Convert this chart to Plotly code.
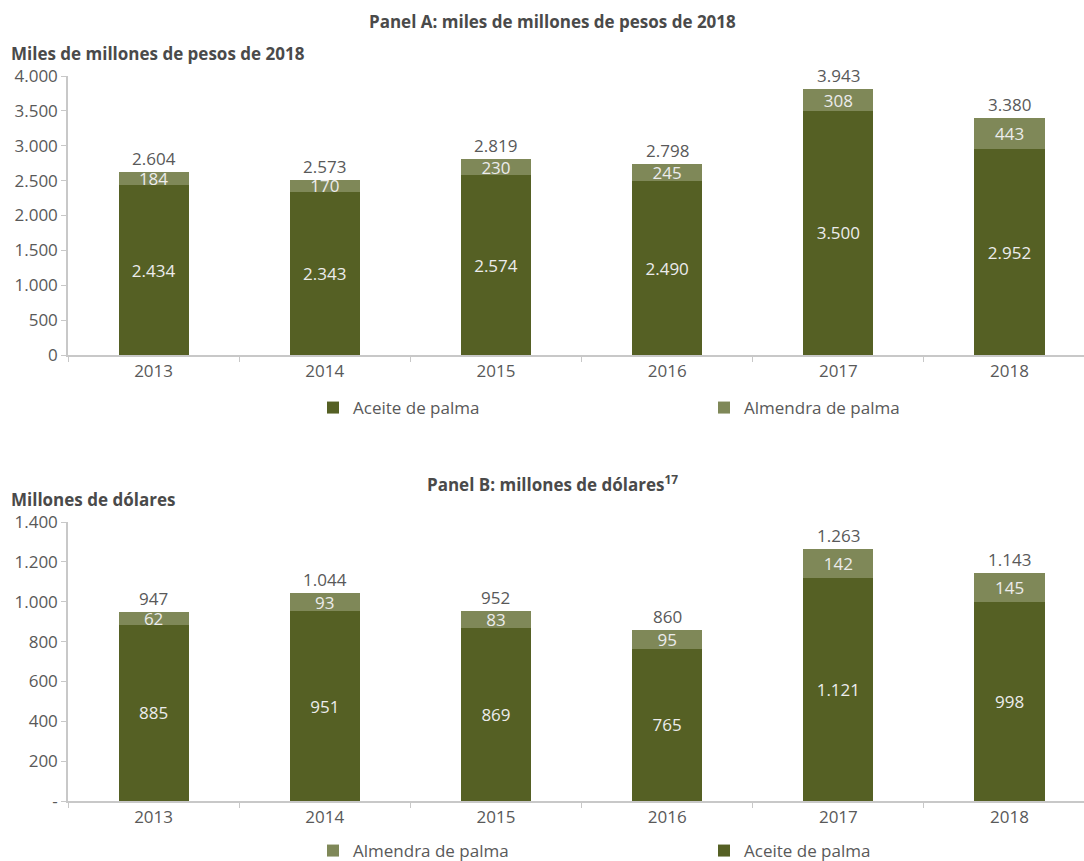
import plotly.graph_objects as go

years = ["2013", "2014", "2015", "2016", "2017", "2018"]

# Panel A: miles de millones de pesos de 2018
aceite_a = [2434, 2343, 2574, 2490, 3500, 2952]
almendra_a = [184, 170, 230, 245, 308, 443]
total_a = [2604, 2573, 2819, 2798, 3943, 3380]
ticks_a = [0, 500, 1000, 1500, 2000, 2500, 3000, 3500, 4000]
ticklabels_a = ["0", "500", "1.000", "1.500", "2.000", "2.500", "3.000", "3.500", "4.000"]

# Panel B: millones de dólares
aceite_b = [885, 951, 869, 765, 1121, 998]
almendra_b = [62, 93, 83, 95, 142, 145]
total_b = [947, 1044, 952, 860, 1263, 1143]
ticks_b = [0, 200, 400, 600, 800, 1000, 1200, 1400]
ticklabels_b = ["-", "200", "400", "600", "800", "1.000", "1.200", "1.400"]

DARK = "#556024"
LIGHT = "#7f8858"
GRAY = "#595959"
TITLE = "#4a4a4a"
AXIS = "#c8c8c8"
FONT = "Open Sans"
FS = 17

W, H = 1084, 861
L, R, T, B = 68, 0, 76, 60
pw, ph = W - L - R, H - T - B


def px(x):
    return (x - L) / pw


def py(y):
    return (H - B - y) / ph


def fmt(v):
    return f"{v:,}".replace(",", ".")


fig = go.Figure()

bar_common = dict(width=0.41, textposition="inside", insidetextanchor="middle",
                  constraintext="none", textangle=0, cliponaxis=False,
                  marker_line_width=0,
                  insidetextfont=dict(family=FONT, size=FS, color="#ececec"),
                  hoverinfo="skip")

fig.add_trace(go.Bar(x=years, y=aceite_a, name="Aceite de palma", marker_color=DARK,
                     text=[fmt(v) for v in aceite_a], xaxis="x", yaxis="y",
                     legend="legend", **bar_common))
fig.add_trace(go.Bar(x=years, y=almendra_a, name="Almendra de palma", marker_color=LIGHT,
                     text=[fmt(v) for v in almendra_a], xaxis="x", yaxis="y",
                     legend="legend", **bar_common))
fig.add_trace(go.Bar(x=years, y=aceite_b, name="Aceite de palma", marker_color=DARK,
                     text=[fmt(v) for v in aceite_b], xaxis="x2", yaxis="y2",
                     legend="legend2", **bar_common))
fig.add_trace(go.Bar(x=years, y=almendra_b, name="Almendra de palma", marker_color=LIGHT,
                     text=[fmt(v) for v in almendra_b], xaxis="x2", yaxis="y2",
                     legend="legend2", **bar_common))

annotations = []
for i, yr in enumerate(years):
    annotations.append(dict(x=i, y=aceite_a[i] + almendra_a[i], xref="x", yref="y",
                            text=fmt(total_a[i]), showarrow=False, yanchor="bottom",
                            yshift=0, font=dict(family=FONT, size=FS, color=GRAY)))
    annotations.append(dict(x=i, y=aceite_b[i] + almendra_b[i], xref="x2", yref="y2",
                            text=fmt(total_b[i]), showarrow=False, yanchor="bottom",
                            yshift=0, font=dict(family=FONT, size=FS, color=GRAY)))

annotations += [
    dict(text="<b>Panel A: miles de millones de pesos de 2018</b>", x=px(552), y=py(22),
         xref="paper", yref="paper", showarrow=False, xanchor="center", yanchor="middle",
         font=dict(family=FONT, size=17, color=TITLE)),
    dict(text="<b>Miles de millones de pesos de 2018</b>", x=px(9), y=py(53),
         xref="paper", yref="paper", showarrow=False, xanchor="left", yanchor="middle",
         font=dict(family=FONT, size=17, color=TITLE)),
    dict(text="<b>Panel B: millones de dólares<sup>17</sup></b>", x=px(552), y=py(483),
         xref="paper", yref="paper", showarrow=False, xanchor="center", yanchor="middle",
         font=dict(family=FONT, size=17, color=TITLE)),
    dict(text="<b>Millones de dólares</b>", x=px(9), y=py(499),
         xref="paper", yref="paper", showarrow=False, xanchor="left", yanchor="middle",
         font=dict(family=FONT, size=17, color=TITLE)),
]

xaxis_common = dict(type="category", range=[-0.5, 5.435], showline=True, linecolor=AXIS,
                    linewidth=1.5, ticks="outside", tickson="boundaries", ticklen=5,
                    tickcolor=AXIS, showgrid=False, zeroline=False,
                    tickfont=dict(family=FONT, size=FS, color=GRAY), fixedrange=True)
yaxis_common = dict(showline=True, linecolor=AXIS, linewidth=1.5, ticks="outside", ticklen=5,
                    tickcolor=AXIS, showgrid=False, zeroline=False,
                    tickfont=dict(family=FONT, size=FS, color=GRAY), fixedrange=True)

fig.update_layout(
    width=W, height=H,
    margin=dict(l=L, r=R, t=T, b=B, autoexpand=False),
    paper_bgcolor="white", plot_bgcolor="white",
    barmode="stack",
    font=dict(family=FONT, color=GRAY),
    xaxis=dict(domain=[0, 1], anchor="y", **xaxis_common),
    yaxis=dict(domain=[py(355), 1], anchor="x", range=[0, 4000], tickvals=ticks_a,
               ticktext=ticklabels_a, **yaxis_common),
    xaxis2=dict(domain=[0, 1], anchor="y2", **xaxis_common),
    yaxis2=dict(domain=[0, py(522)], anchor="x2", range=[0, 1400], tickvals=ticks_b,
                ticktext=ticklabels_b, **yaxis_common),
    legend=dict(orientation="h", x=px(313), y=py(408), xanchor="left", yanchor="middle",
                traceorder="normal", entrywidth=346, entrywidthmode="pixels",
                font=dict(family=FONT, size=FS, color=GRAY), bgcolor="rgba(0,0,0,0)"),
    legend2=dict(orientation="h", x=px(313), y=py(851), xanchor="left", yanchor="middle",
                 traceorder="reversed", entrywidth=346, entrywidthmode="pixels",
                 font=dict(family=FONT, size=FS, color=GRAY), bgcolor="rgba(0,0,0,0)"),
    annotations=annotations,
    showlegend=True,
)

fig.write_html("out.html", config={"displayModeBar": False},
               post_script="document.body.style.margin='0';document.body.style.padding='0';")
